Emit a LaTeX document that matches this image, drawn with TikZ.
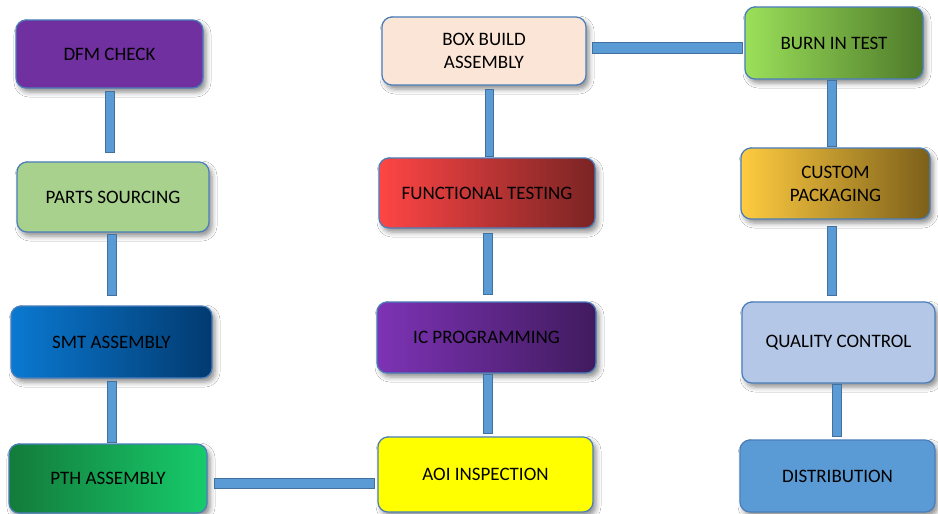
\documentclass[tikz,border=0pt]{standalone}
\usepackage{fontspec}
\setmainfont{Carlito}
\usetikzlibrary{calc,shadows.blur}
\definecolor{bord}{HTML}{4A7EBB}
\definecolor{barF}{HTML}{5B9BD5}
\definecolor{barB}{HTML}{41719C}
\definecolor{dfmC}{HTML}{7030A0}
\definecolor{partsC}{HTML}{A9D18E}
\definecolor{smtL}{HTML}{0A79D1}
\definecolor{smtR}{HTML}{023A70}
\definecolor{pthL}{HTML}{137B3B}
\definecolor{pthR}{HTML}{17CB6B}
\definecolor{boxC}{HTML}{FBE5D6}
\definecolor{funcL}{HTML}{FF4545}
\definecolor{funcR}{HTML}{7A2424}
\definecolor{icL}{HTML}{7D33B5}
\definecolor{icR}{HTML}{401B5E}
\definecolor{aoiC}{HTML}{FFFF00}
\definecolor{burnL}{HTML}{9BE05A}
\definecolor{burnR}{HTML}{4E7A2A}
\definecolor{custL}{HTML}{FFCC40}
\definecolor{custR}{HTML}{7C5F1A}
\definecolor{qualC}{HTML}{B4C7E7}
\definecolor{distC}{HTML}{5B9BD5}
\begin{document}
\begin{tikzpicture}[x=1pt,y=-1pt,
  stagebox/.style={draw=bord, line width=1.2pt, rounded corners=10pt, align=center,
    inner sep=0pt, font=\fontsize{19}{23}\selectfont,
    blur shadow={shadow xshift=3pt, shadow yshift=-4pt, shadow blur radius=5pt, shadow opacity=45}},
  bar/.style={draw=barB, fill=barF, line width=0.9pt}]
\useasboundingbox[fill=white] (0,0) rectangle (938,514);
% column 1
\node[stagebox, fill=dfmC, minimum width=187pt, minimum height=68pt] (dfm) at (109.5,54) {DFM CHECK};
\node[stagebox, fill=partsC, minimum width=192pt, minimum height=70pt] (parts) at (113,197) {PARTS SOURCING};
\node[stagebox, left color=smtL, right color=smtR, minimum width=201pt, minimum height=72pt] (smt) at (111.5,342) {SMT ASSEMBLY};
\node[stagebox, left color=pthL, right color=pthR, minimum width=198pt, minimum height=69pt] (pth) at (108,478.5) {PTH ASSEMBLY};
% column 2
\node[stagebox, fill=boxC, minimum width=204pt, minimum height=68pt] (box) at (484,51) {BOX BUILD\\ASSEMBLY};
\node[stagebox, left color=funcL, right color=funcR, minimum width=216pt, minimum height=70pt] (func) at (487,193) {FUNCTIONAL TESTING};
\node[stagebox, left color=icL, right color=icR, minimum width=219pt, minimum height=71pt] (ic) at (486.5,337.5) {IC PROGRAMMING};
\node[stagebox, fill=aoiC, minimum width=215pt, minimum height=75pt] (aoi) at (485.5,474.5) {AOI INSPECTION};
% column 3
\node[stagebox, left color=burnL, right color=burnR, minimum width=178pt, minimum height=72pt] (burn) at (834,43) {BURN IN TEST};
\node[stagebox, left color=custL, right color=custR, minimum width=189pt, minimum height=71pt] (custom) at (835.5,183.5) {CUSTOM\\PACKAGING};
\node[stagebox, fill=qualC, minimum width=193pt, minimum height=81pt] (quality) at (838.5,342.5) {QUALITY CONTROL};
\node[stagebox, fill=distC, minimum width=195pt, minimum height=72pt] (dist) at (837.5,476) {DISTRIBUTION};
% connectors
\draw[bar] ($(dfm.south)+(-4,3)$) rectangle ($(dfm.south|-parts.north)+(4.5,-9)$);
\draw[bar] ($(parts.south-|smt.north)+(-4.5,2)$) rectangle ($(smt.north)+(4.5,-10)$);
\draw[bar] ($(smt.south)+(-4.5,3)$) rectangle ($(smt.south|-pth.north)+(4.5,-1)$);
\draw[bar] ($(pth.east)+(7,-0.5)$) rectangle ($(pth.east-|aoi.west)+(-3,9.5)$);
\draw[bar] ($(box.south)+(1,4)$) rectangle ($(box.south|-func.north)+(9,-1)$);
\draw[bar] ($(func.south)+(-4,5)$) rectangle ($(func.south|-ic.north)+(5,-7)$);
\draw[bar] ($(ic.south)+(-3.5,0.5)$) rectangle ($(ic.south|-aoi.north)+(5.5,-3)$);
\draw[bar] ($(box.east)+(6,-9)$) rectangle ($(box.east-|burn.west)+(-2,2)$);
\draw[bar] ($(burn.south)+(-7,0.5)$) rectangle ($(burn.south|-custom.north)+(2,-0.5)$);
\draw[bar] ($(custom.south)+(-8.5,7)$) rectangle ($(custom.south|-quality.north)+(0.5,-6)$);
\draw[bar] ($(quality.south)+(-6.5,0.5)$) rectangle ($(quality.south|-dist.north)+(2.5,-3)$);
\end{tikzpicture}
\end{document}
